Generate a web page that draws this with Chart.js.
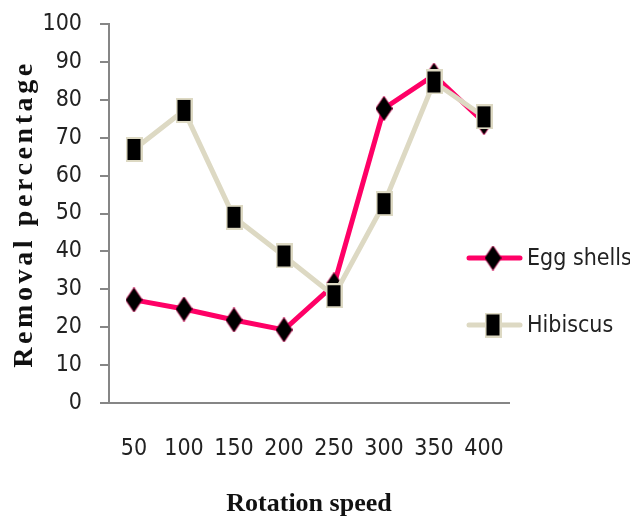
<!DOCTYPE html>
<html>
<head>
<meta charset="utf-8">
<script src="https://cdn.jsdelivr.net/npm/chart.js@4/dist/chart.umd.min.js"></script>
<style>
  html, body { margin: 0; padding: 0; background: #fff; }
  #wrap { width: 630px; height: 520px; }
</style>
</head>
<body>
<div id="wrap"><canvas id="c" width="630" height="520"></canvas></div>
<script>
/* ---- data ---- */
const speeds = ["50", "100", "150", "200", "250", "300", "350", "400"];
const eggShells = [27.2, 24.8, 21.9, 19.3, 31.2, 77.7, 86.5, 74];
const hibiscus = [66.9, 77.2, 49.0, 38.8, 28.3, 52.6, 84.7, 75.5];
const yTicks = [0, 10, 20, 30, 40, 50, 60, 70, 80, 90, 100];

const pink = "#ff0066";
const beige = "#ddd9c3";
const narrow = "'DejaVu Sans Condensed', 'Liberation Sans Narrow', sans-serif";
const serif = "'Liberation Serif', 'DejaVu Serif', serif";

// marker images (the original markers are taller than wide)
function squareMark(w, h) {
  const c = document.createElement("canvas");
  c.width = w; c.height = h;
  const g = c.getContext("2d");
  g.fillStyle = beige; g.fillRect(0, 0, w, h);
  g.fillStyle = "#000"; g.fillRect(2, 2, w - 4, h - 4);
  return c;
}
function diamondMark(w, h) {
  const c = document.createElement("canvas");
  c.width = w; c.height = h;
  const g = c.getContext("2d");
  g.beginPath();
  g.moveTo(w / 2, 0); g.lineTo(w, h / 2); g.lineTo(w / 2, h); g.lineTo(0, h / 2);
  g.closePath();
  g.fillStyle = "#000"; g.fill();
  g.strokeStyle = "rgba(255,0,102,0.6)"; g.lineWidth = 1; g.stroke();
  return c;
}

/* ---- legend + y title drawn by hand ---- */
const extras = {
  id: "extras",
  afterDraw(chart) {
    const ctx = chart.ctx;
    // y title, letter spaced like the original
    ctx.save();
    ctx.translate(25, 216);
    ctx.rotate(-Math.PI / 2);
    ctx.font = "bold 28px " + serif;
    ctx.letterSpacing = "3.6px";
    ctx.fillStyle = "#111";
    ctx.textAlign = "center";
    ctx.textBaseline = "middle";
    ctx.fillText("Removal percentage", 2, 0);
    ctx.restore();

    // legend
    const rows = [258, 325];
    chart.data.datasets.forEach((ds, i) => {
      const y = rows[i];
      ctx.save();
      ctx.strokeStyle = ds.borderColor;
      ctx.lineWidth = ds.borderWidth;
      ctx.lineCap = "round";
      ctx.beginPath(); ctx.moveTo(469, y); ctx.lineTo(520, y); ctx.stroke();
      const m = ds.pointStyle;
      ctx.drawImage(m, 493 - m.width / 2, y - m.height / 2);
      ctx.font = "23px " + narrow;
      ctx.fillStyle = "#222";
      ctx.textBaseline = "middle";
      ctx.fillText(ds.label, 527, y + 1);
      ctx.restore();
    });
  }
};

new Chart(document.getElementById("c"), {
  type: "line",
  data: {
    labels: speeds,
    datasets: [
      {
        label: "Egg shells",
        data: eggShells,
        borderColor: pink,
        backgroundColor: "#000",
        borderWidth: 5,
        pointStyle: diamondMark(17, 25),
        pointRadius: 10,
        tension: 0,
        order: 2
      },
      {
        label: "Hibiscus",
        data: hibiscus,
        borderColor: beige,
        backgroundColor: "#000",
        borderWidth: 5,
        pointStyle: squareMark(17, 25),
        pointRadius: 10,
        tension: 0,
        order: 1
      }
    ]
  },
  options: {
    responsive: false,
    animation: false,
    layout: { padding: { left: 0, right: 121, top: 24, bottom: 0 } },
    plugins: { legend: { display: false }, tooltip: { enabled: false } },
    scales: {
      x: {
        offset: true,
        grid: { display: false, drawTicks: false },
        border: { color: "#868686", width: 2 },
        ticks: { font: { family: narrow, size: 23 }, color: "#222", padding: 32, maxRotation: 0, autoSkip: false },
        title: {
          display: true, text: "Rotation speed",
          font: { family: serif, size: 26, weight: "bold" }, color: "#111",
          padding: { top: 10, bottom: 0 }
        },
        afterFit: s => { s.height = 117; s.paddingLeft = 0; s.paddingRight = 0; }
      },
      y: {
        min: 0, max: 100,
        afterBuildTicks: s => { s.ticks = yTicks.map(v => ({ value: v })); },
        grid: { drawOnChartArea: false, drawTicks: true, tickLength: 9, color: "#868686", lineWidth: 2 },
        border: { color: "#868686", width: 2 },
        ticks: { font: { family: narrow, size: 23 }, color: "#222", padding: 18 },
        afterFit: s => { s.width = 109; s.paddingTop = 0; s.paddingBottom = 0; }
      }
    }
  },
  plugins: [extras]
});
</script>
</body>
</html>
